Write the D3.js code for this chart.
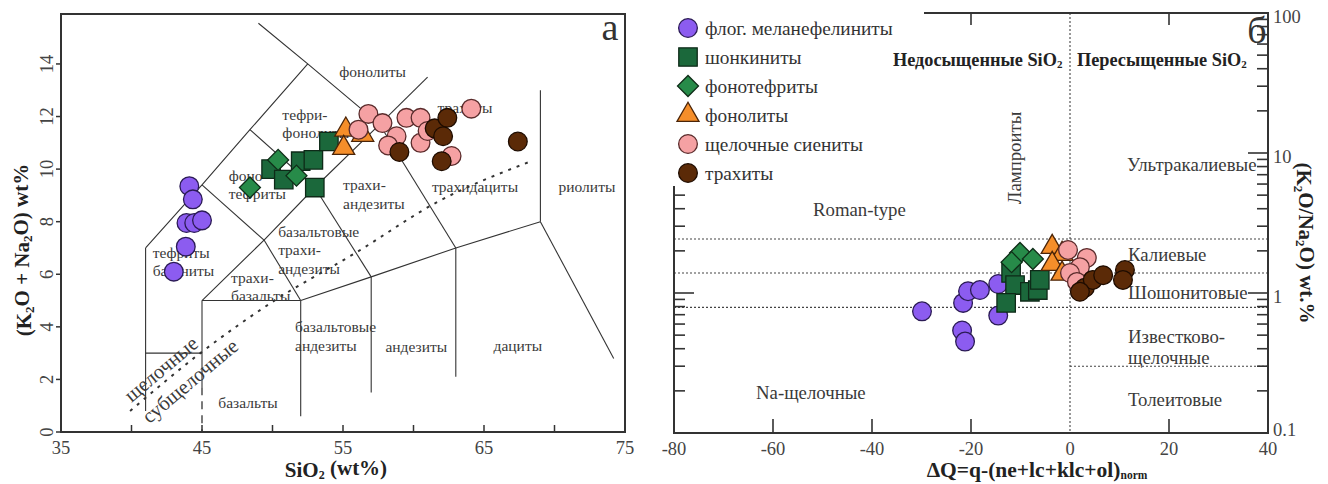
<!DOCTYPE html>
<html>
<head>
<meta charset="utf-8">
<script src="https://cdn.jsdelivr.net/npm/d3@7"></script>
<style>
  body { margin: 0; background: #fff; }
  svg { display: block; font-family: "Liberation Serif", "Times New Roman", serif; }
</style>
</head>
<body>
<svg id="chart" width="1328" height="484"></svg>
<script>
// ---------- Panel а: TAS diagram (SiO2 wt%, Na2O+K2O wt%) ----------
const tasMelanephelinite = [[44.1, 9.35], [44.35, 8.85], [43.9, 7.95], [44.45, 7.95], [45.0, 8.05], [43.85, 7.05], [43.0, 6.1]];
const tasShonkinite      = [[49.9, 10.0], [50.8, 9.6], [52.0, 10.3], [52.9, 10.35], [54.0, 11.05], [53.0, 9.3]];
const tasPhonotephrite   = [[51.7, 9.75], [50.4, 10.35], [48.4, 9.3]];
const tasPhonolite       = [[55.2, 11.5], [55.05, 10.8], [56.4, 11.3]];
const tasSyenite         = [[56.8, 12.1], [57.8, 11.75], [56.1, 11.5], [59.5, 11.95], [60.5, 11.95], [58.8, 11.25],
                            [58.2, 10.9], [60.5, 11.0], [61.0, 11.45], [62.7, 10.5], [64.1, 12.3]];
const tasTrachyte        = [[59.0, 10.65], [61.5, 11.55], [62.4, 11.95], [62.1, 11.25], [62.0, 10.3], [67.4, 11.05]];

// TAS field boundaries (polylines in data units)
const tasBoundaries = [
  [[41, 0.8], [41, 7]],
  [[41, 3], [45, 3]],
  [[45, 5], [45, 1.7]],
  [[45, 5], [52, 5]],
  [[52, 5], [52, 0.6]],
  [[52, 5], [57, 5.9], [63, 7], [69, 8]],
  [[57, 5.9], [57, 1.5]],
  [[63, 7], [63, 2.1]],
  [[69, 8], [74.2, 2.8]],
  [[69, 8], [69, 13]],
  [[45, 5], [49.4, 7.3], [53, 9.3], [57.6, 11.7]],
  [[49.4, 7.3], [52, 5]],
  [[53, 9.3], [57, 5.9]],
  [[57.6, 11.7], [63, 7]],
  [[41, 7], [45, 9.4], [48.4, 11.5], [52.5, 14]],
  [[45, 9.4], [49.4, 7.3]],
  [[48.4, 11.5], [53, 9.3]],
  [[49, 15.55], [52.5, 14], [57.6, 11.7]],
  [[57.6, 11.7], [61, 13.5]]
];
const tasBrokenSegment = [[45, 1.7], [45, 0]];
// alkaline / subalkaline divide
const alkalineDivide = [[39.9, 0.8], [45, 3.05], [50, 4.95], [56, 6.85], [61.7, 8.75], [68.1, 10.25]];

const tasFieldLabels = [
  { lines: ["фонолиты"], x: 57.1, y: 13.5, anchor: "middle" },
  { lines: ["тефри-", "фонолиты"], x: 50.7, y: 11.87, anchor: "start" },
  { lines: ["трахиты"], x: 63.65, y: 12.13, anchor: "middle" },
  { lines: ["фоно", "тефриты"], x: 46.9, y: 9.55, anchor: "start" },
  { lines: ["трахи-", "андезиты"], x: 55.0, y: 9.2, anchor: "start" },
  { lines: ["трахидациты"], x: 64.36, y: 9.13, anchor: "middle" },
  { lines: ["риолиты"], x: 72.3, y: 9.13, anchor: "middle" },
  { lines: ["базальтовые", "трахи-", "андезиты"], x: 50.4, y: 7.42, anchor: "start" },
  { lines: ["тефриты", "базаниты"], x: 41.5, y: 6.62, anchor: "start" },
  { lines: ["трахи-", "базальты"], x: 47.06, y: 5.67, anchor: "start" },
  { lines: ["базальтовые", "андезиты"], x: 51.6, y: 3.8, anchor: "start" },
  { lines: ["андезиты"], x: 60.2, y: 3.04, anchor: "middle" },
  { lines: ["дациты"], x: 67.4, y: 3.1, anchor: "middle" },
  { lines: ["базальты"], x: 48.26, y: 0.91, anchor: "middle" }
];

// ---------- Panel б: K2O/Na2O vs ΔQ ----------
const dqMelanephelinite = [[-29.9, 0.74], [-21.6, 0.85], [-20.6, 1.03], [-18.2, 1.05], [-14.5, 1.16], [-21.8, 0.54], [-21.2, 0.45], [-14.5, 0.69]];
const dqShonkinite      = [[-11.9, 1.39], [-11.1, 1.14], [-12.9, 0.85], [-8.1, 1.02], [-6.5, 1.05], [-6.1, 1.24]];
const dqPhonotephrite   = [[-10.1, 1.93], [-7.5, 1.75], [-11.8, 1.66]];
const dqPhonolite       = [[-3.6, 2.13], [-1.6, 1.9], [-3.6, 1.61], [-1.6, 1.37]];
const dqSyenite         = [[-0.4, 2.03], [3.4, 1.78], [2.0, 1.53], [0.0, 1.39], [1.4, 1.2]];
const dqTrachyte        = [[3.0, 1.09], [4.6, 1.24], [6.7, 1.34], [11.1, 1.46], [10.7, 1.24], [2.0, 1.02]];

const ratioDividers = [2.43, 1.39, 0.79];   // full-width K2O/Na2O boundaries
const tholeiiteDivider = 0.3;               // drawn only for ΔQ > 0

const legendNames = ["флог. меланефелиниты", "шонкиниты", "фонотефриты", "фонолиты", "щелочные сиениты", "трахиты"];
const dqTicks = [-80, -60, -40, -20, 0, 20, 40];
const tasXTicks = [35, 45, 55, 65, 75];
const tasYTicks = [0, 2, 4, 6, 8, 10, 12, 14];
const ratioTickLabels = [0.1, 1, 10, 100];

// ---------- shared styles ----------
const series = [
  { fill: "#8c5cf0", stroke: "#2b1b55", shape: "circle" },
  { fill: "#1b683b", stroke: "#0e2a18", shape: "square" },
  { fill: "#278b49", stroke: "#0f2e18", shape: "diamond" },
  { fill: "#f58e2a", stroke: "#4a2408", shape: "triangle" },
  { fill: "#f5a1a3", stroke: "#5a2b2b", shape: "circle" },
  { fill: "#5b2a07", stroke: "#1e0c00", shape: "circle" }
];
const shapePath = {
  circle: d3.symbol(d3.symbolCircle, 275)(),
  square: d3.symbol(d3.symbolSquare, 340)(),
  diamond: d3.symbol(d3.symbolSquare, 220)(),
  triangle: d3.symbol(d3.symbolTriangle, 210)()
};
function drawMarks(g, data, s, x, y) {
  g.selectAll(null).data(data).enter().append("path")
    .attr("d", shapePath[s.shape])
    .attr("transform", d => `translate(${x(d[0])},${y(d[1])})` + (s.shape === "diamond" ? " rotate(45)" : ""))
    .attr("fill", s.fill).attr("stroke", s.stroke).attr("stroke-width", 1.3);
}
// text with sub-scripted parts: parts = [[text, isSub], ...]
function richText(sel, parts, subSize) {
  parts.forEach(([t, sub], i) => {
    const prevSub = i > 0 && parts[i - 1][1];
    const ts = sel.append("tspan").text(t);
    if (sub && !prevSub) ts.attr("dy", "0.2em").attr("font-size", subSize);
    else if (sub) ts.attr("font-size", subSize);
    else if (prevSub) ts.attr("dy", "-0.2em");
  });
  return sel;
}

const svg = d3.select("#chart");
const ink = "#333";

// =====================================================================
// Panel а
// =====================================================================
const xL = d3.scaleLinear().domain([35, 75]).range([61, 625]);
const yL = d3.scaleLinear().domain([0, 15.9]).range([432, 14]);
const gA = svg.append("g");

// field boundaries
const lineL = d3.line().x(d => xL(d[0])).y(d => yL(d[1]));
gA.selectAll(null).data(tasBoundaries).enter().append("path")
  .attr("d", lineL).attr("fill", "none").attr("stroke", ink).attr("stroke-width", 1.1);
gA.append("path").attr("d", lineL(tasBrokenSegment)).attr("fill", "none")
  .attr("stroke", ink).attr("stroke-width", 1.3).attr("stroke-dasharray", "8,6");
gA.append("path").attr("d", d3.line().x(d => xL(d[0])).y(d => yL(d[1])).curve(d3.curveMonotoneX)(alkalineDivide))
  .attr("fill", "none").attr("stroke", ink).attr("stroke-width", 2).attr("stroke-dasharray", "3,6");

// field labels
tasFieldLabels.forEach(f => {
  const t = gA.append("text").attr("x", xL(f.x)).attr("y", yL(f.y))
    .attr("text-anchor", f.anchor).attr("font-size", 15.5).attr("fill", "#3a3a3a");
  f.lines.forEach((ln, i) => t.append("tspan").attr("x", xL(f.x)).attr("dy", i === 0 ? 0 : 18.5).text(ln));
});
gA.append("text").attr("transform", "translate(161,369) rotate(-40)")
  .attr("text-anchor", "middle").attr("dominant-baseline", "central")
  .attr("font-size", 20.5).attr("fill", "#3a3a3a").text("щелочные");
gA.append("text").attr("transform", "translate(190,381) rotate(-40)")
  .attr("text-anchor", "middle").attr("dominant-baseline", "central")
  .attr("font-size", 20.5).attr("fill", "#3a3a3a").text("субщелочные");

// data
[tasMelanephelinite, tasShonkinite, tasPhonotephrite, tasPhonolite, tasSyenite, tasTrachyte]
  .forEach((d, i) => drawMarks(gA, d, series[i], xL, yL));

// frame and axes
gA.append("rect").attr("x", xL(35)).attr("y", 14).attr("width", xL(75) - xL(35)).attr("height", 432 - 14)
  .attr("fill", "none").attr("stroke", ink).attr("stroke-width", 2);
gA.selectAll(null).data(d3.range(40, 75, 5)).enter().append("line")
  .attr("x1", d => xL(d)).attr("x2", d => xL(d)).attr("y1", yL(0)).attr("y2", yL(0) - 7)
  .attr("stroke", ink).attr("stroke-width", 1.5);
gA.selectAll(null).data(tasXTicks).enter().append("text")
  .attr("x", d => xL(d)).attr("y", 454).attr("text-anchor", "middle")
  .attr("font-size", 18.5).attr("fill", "#444").text(d => d);
gA.selectAll(null).data(tasYTicks).enter().append("line")
  .attr("x1", xL(35) - 5).attr("x2", xL(35)).attr("y1", d => yL(d)).attr("y2", d => yL(d))
  .attr("stroke", ink).attr("stroke-width", 1.5);
gA.selectAll(null).data(tasYTicks).enter().append("text")
  .attr("transform", d => `translate(53,${yL(d)}) rotate(-90)`).attr("text-anchor", "middle")
  .attr("font-size", 18.5).attr("fill", "#444").text(d => d);

richText(gA.append("text").attr("x", 336).attr("y", 477).attr("text-anchor", "middle")
  .attr("font-size", 21).attr("font-weight", "bold").attr("fill", "#222"),
  [["SiO", false], ["2", true], [" (wt%)", false]], 12);
richText(gA.append("text").attr("transform", "translate(31,250) rotate(-90)").attr("text-anchor", "middle")
  .attr("font-size", 21).attr("font-weight", "bold").attr("fill", "#222"),
  [["(K", false], ["2", true], ["O + Na", false], ["2", true], ["O) wt%", false]], 13);
gA.append("text").attr("x", 610).attr("y", 40).attr("text-anchor", "middle")
  .attr("font-size", 38).attr("fill", "#333").text("а");

// =====================================================================
// Panel б
// =====================================================================
const xR = d3.scaleLinear().domain([-80, 40]).range([674, 1268]);
const yR = d3.scaleLog().domain([0.1, 100]).range([433, 13]);
const gB = svg.append("g");

// dividers
gB.selectAll(null).data(ratioDividers).enter().append("line")
  .attr("x1", xR(-80)).attr("x2", xR(40)).attr("y1", d => yR(d)).attr("y2", d => yR(d))
  .attr("stroke", "#444").attr("stroke-width", 1.1).attr("stroke-dasharray", "2,2");
gB.append("line").attr("x1", xR(0)).attr("x2", xR(40)).attr("y1", yR(tholeiiteDivider)).attr("y2", yR(tholeiiteDivider))
  .attr("stroke", "#444").attr("stroke-width", 1.1).attr("stroke-dasharray", "2,2");
gB.append("line").attr("x1", xR(0)).attr("x2", xR(0)).attr("y1", yR(100)).attr("y2", yR(0.1))
  .attr("stroke", "#444").attr("stroke-width", 1.1).attr("stroke-dasharray", "2,2");

// frame
gB.append("rect").attr("x", xR(-80)).attr("y", yR(100)).attr("width", xR(40) - xR(-80)).attr("height", yR(0.1) - yR(100))
  .attr("fill", "none").attr("stroke", ink).attr("stroke-width", 2);

// log ticks on both vertical sides
const logTicks = yR.ticks();
const isMajor = v => Math.abs(Math.log10(v) - Math.round(Math.log10(v))) < 1e-9;
logTicks.filter(v => v > 0.1 && v < 100).forEach(v => {
  const len = isMajor(v) ? 20 : 11;
  gB.append("line").attr("x1", xR(-80)).attr("x2", xR(-80) + len).attr("y1", yR(v)).attr("y2", yR(v))
    .attr("stroke", ink).attr("stroke-width", 1.6);
  gB.append("line").attr("x1", xR(40)).attr("x2", xR(40) - len).attr("y1", yR(v)).attr("y2", yR(v))
    .attr("stroke", ink).attr("stroke-width", 1.6);
});
// the bottom label sits just above the corner so it clears the ΔQ labels
gB.selectAll(null).data(ratioTickLabels).enter().append("text")
  .attr("x", xR(40) + 5).attr("y", d => yR(d) + (d === 0.1 ? 3 : 10))
  .attr("font-size", 18.5).attr("fill", "#444").text(d => d);

// ΔQ ticks top and bottom
dqTicks.filter(v => v > -80 && v < 40 && v !== 0).forEach(v => {
  gB.append("line").attr("x1", xR(v)).attr("x2", xR(v)).attr("y1", yR(0.1)).attr("y2", yR(0.1) - 14)
    .attr("stroke", ink).attr("stroke-width", 1.6);
  gB.append("line").attr("x1", xR(v)).attr("x2", xR(v)).attr("y1", yR(100)).attr("y2", yR(100) + 12)
    .attr("stroke", ink).attr("stroke-width", 1.6);
});
gB.selectAll(null).data(dqTicks).enter().append("text")
  .attr("x", d => xR(d)).attr("y", 455).attr("text-anchor", "middle")
  .attr("font-size", 18.5).attr("fill", "#444").text(d => d);

// region labels
const regionText = (x, y, s) => gB.append("text").attr("x", x).attr("y", y)
  .attr("font-size", 18.8).attr("fill", "#3a3a3a").text(s);
regionText(1127, 171, "Ультракалиевые");
regionText(1128, 261, "Калиевые");
regionText(1128, 299, "Шошонитовые");
regionText(1128, 343, "Известково-");
regionText(1128, 364, "щелочные");
regionText(1128, 406, "Толеитовые");
regionText(756, 399, "Na-щелочные");
regionText(813, 216, "Roman-type");
gB.append("text").attr("transform", "translate(1021,158) rotate(-90)").attr("text-anchor", "middle")
  .attr("font-size", 18.8).attr("fill", "#3a3a3a").text("Лампроиты");

// data
[dqMelanephelinite, dqShonkinite, dqPhonotephrite, dqPhonolite, dqSyenite, dqTrachyte]
  .forEach((d, i) => drawMarks(gB, d, series[i], xR, yR));

// axis titles
richText(gB.append("text").attr("x", 1037).attr("y", 477).attr("text-anchor", "middle")
  .attr("font-size", 21.5).attr("font-weight", "bold").attr("fill", "#222"),
  [["ΔQ=q-(ne+lc+klc+ol)", false], ["norm", true]], 11.5);
richText(gB.append("text").attr("transform", "translate(1297,243) rotate(90)").attr("text-anchor", "middle")
  .attr("font-size", 21).attr("font-weight", "bold").attr("fill", "#222"),
  [["(K", false], ["2", true], ["O/Na", false], ["2", true], ["O) wt.%", false]], 13);
gB.append("text").attr("x", 1257).attr("y", 43).attr("text-anchor", "middle")
  .attr("font-size", 38).attr("fill", "#333").text("б");

// legend (white box over the upper-left corner of the frame)
const gLeg = gB.append("g");
gLeg.append("rect").attr("x", 668).attr("y", 6).attr("width", 256).attr("height", 180).attr("fill", "#fff");
legendNames.forEach((name, i) => {
  const yy = 28 + i * 29;
  const s = series[i];
  gLeg.append("path").attr("d", shapePath[s.shape])
    .attr("transform", `translate(688,${yy})` + (s.shape === "diamond" ? " rotate(45)" : ""))
    .attr("fill", s.fill).attr("stroke", s.stroke).attr("stroke-width", 1.3);
  gLeg.append("text").attr("x", 705).attr("y", yy).attr("dominant-baseline", "central")
    .attr("font-size", 19.3).attr("fill", "#333").text(name);
});

// saturation headers, drawn above the legend box
richText(gB.append("text").attr("x", 893).attr("y", 66).attr("font-size", 18.3).attr("font-weight", "bold").attr("fill", "#222"),
  [["Недосыщенные SiO", false], ["2", true]], 11);
richText(gB.append("text").attr("x", 1077).attr("y", 66).attr("font-size", 18.3).attr("font-weight", "bold").attr("fill", "#222"),
  [["Пересыщенные SiO", false], ["2", true]], 11);
</script>
</body>
</html>
